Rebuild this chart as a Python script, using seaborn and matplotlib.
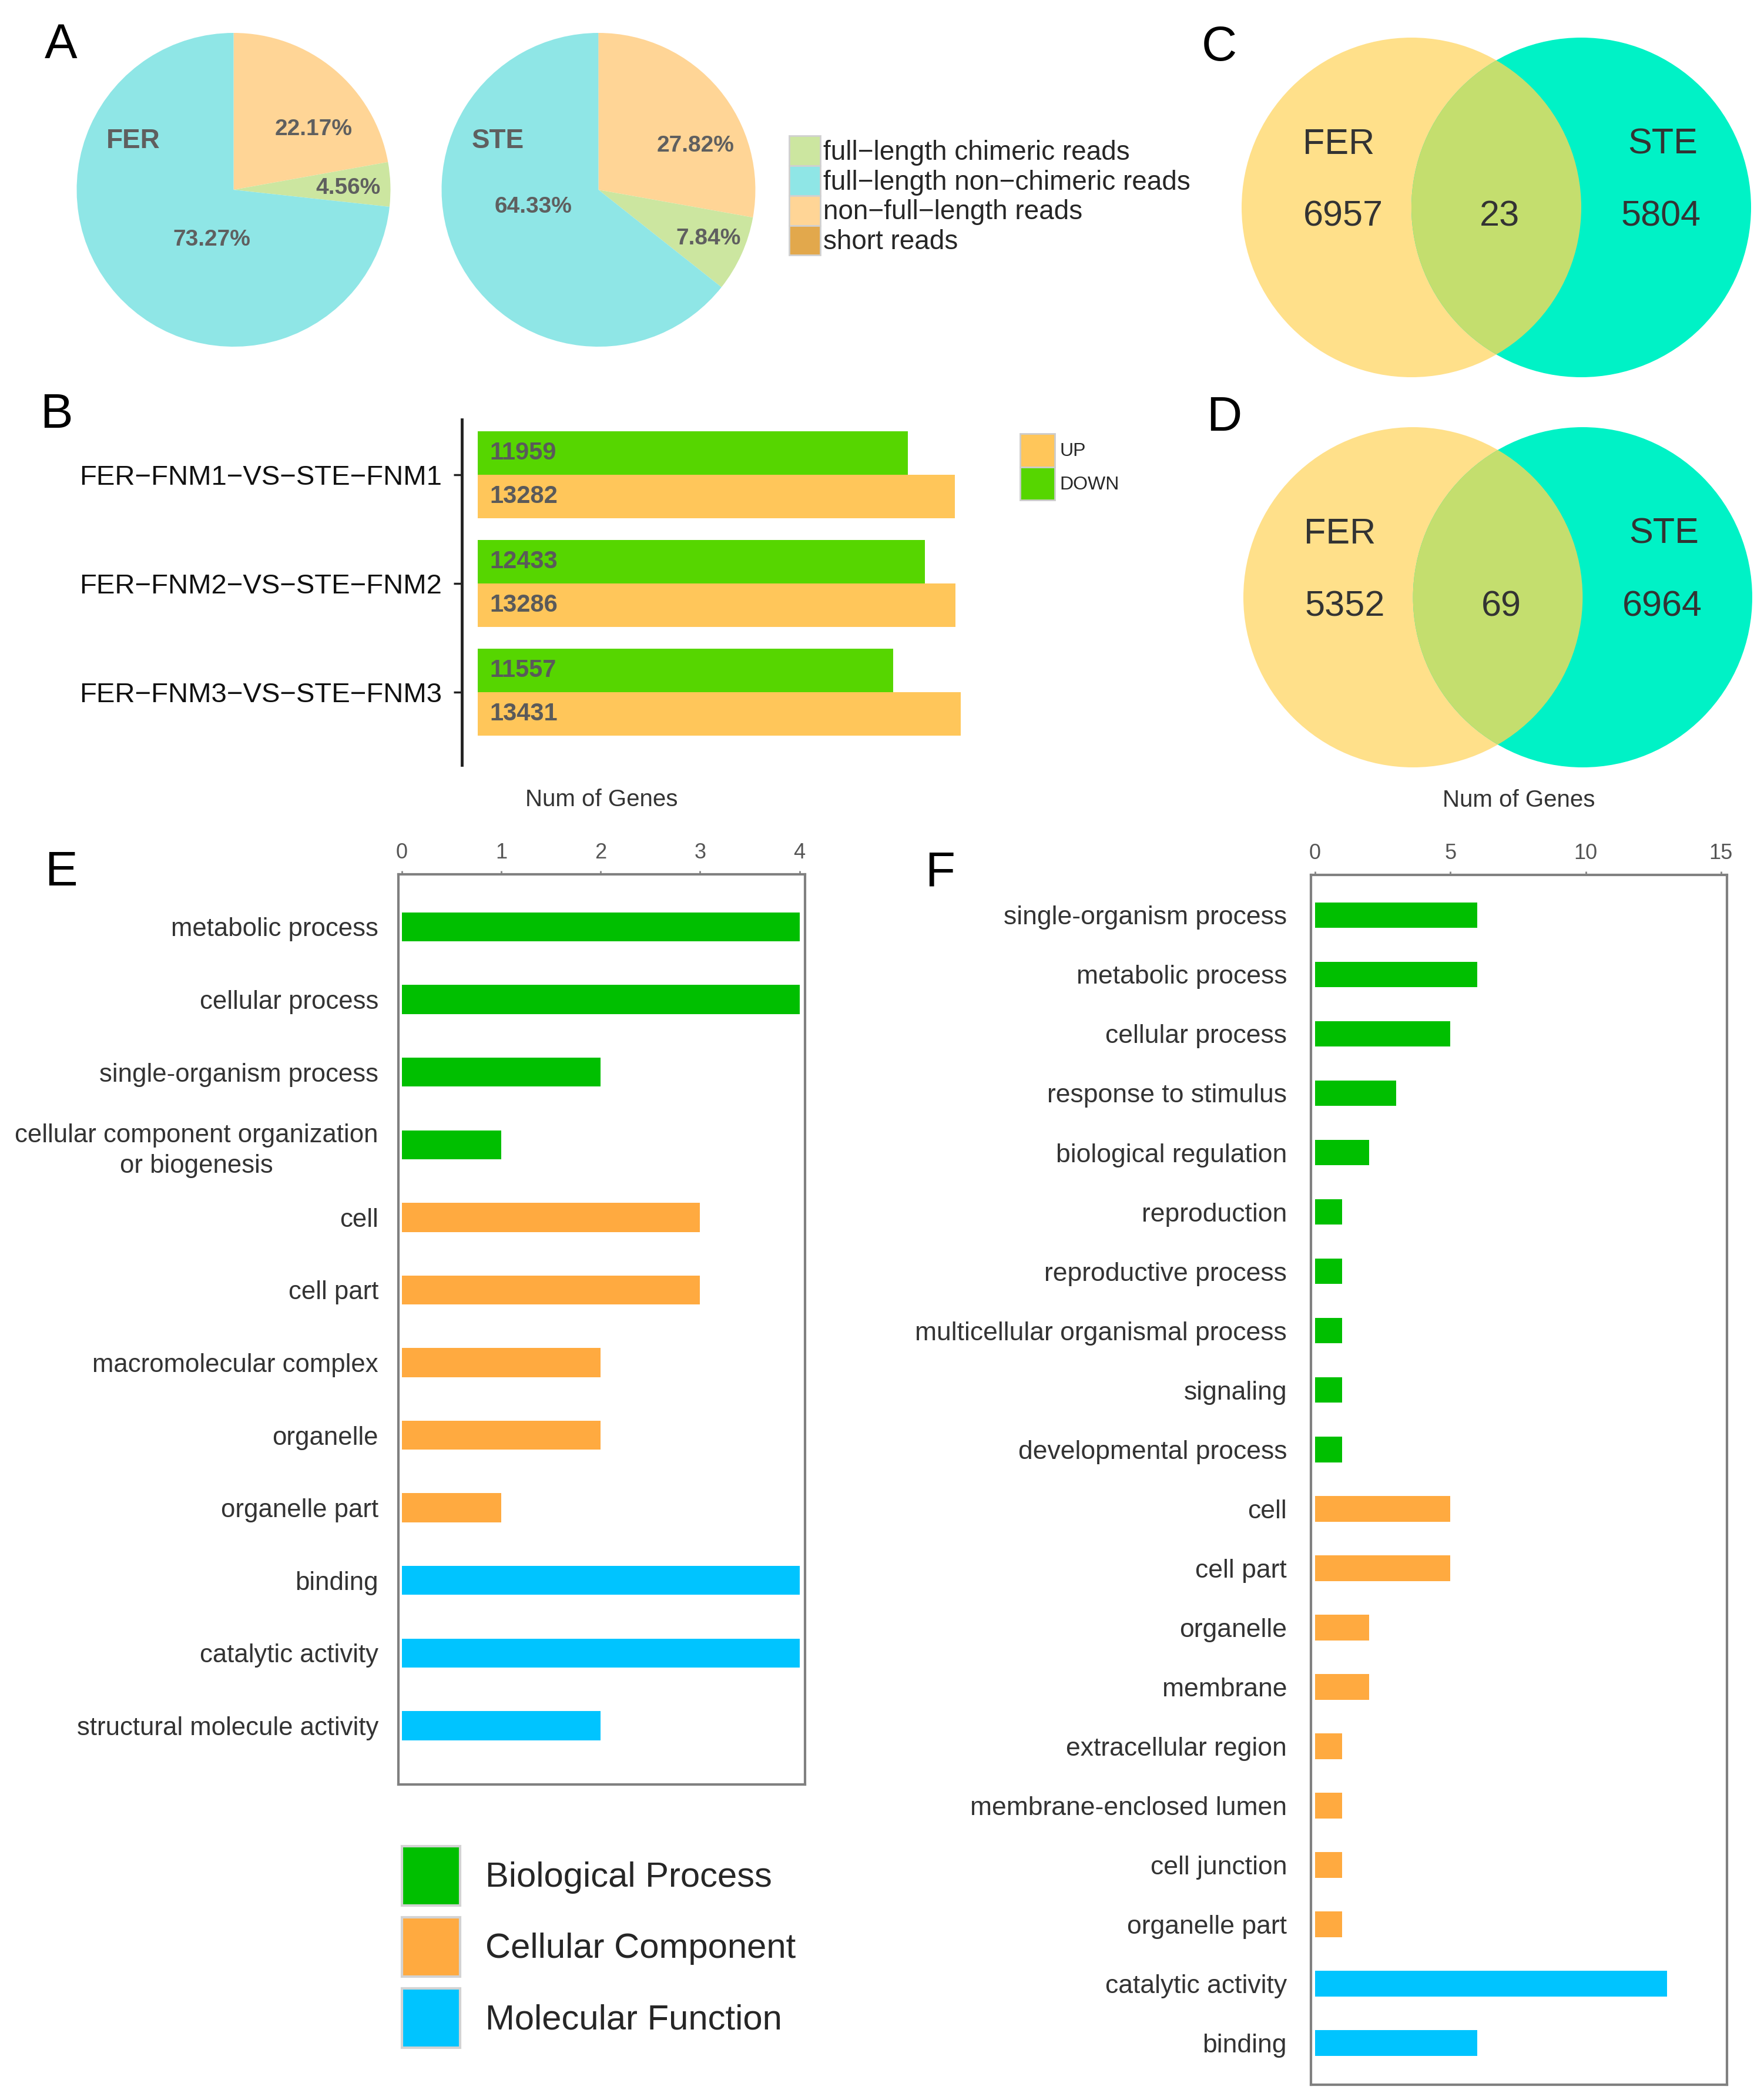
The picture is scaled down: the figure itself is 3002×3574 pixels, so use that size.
import matplotlib
matplotlib.use("Agg")
import matplotlib.pyplot as plt
from matplotlib.patches import Circle, Patch
import pandas as pd
import seaborn as sns

MINUS = "\u2212"

# panel A: read classes, percent of reads
read_classes = [
    f"full{MINUS}length chimeric reads",
    f"full{MINUS}length non{MINUS}chimeric reads",
    f"non{MINUS}full{MINUS}length reads",
    "short reads",
]
read_colors = ["#CCE6A0", "#8FE6E6", "#FFD596", "#E2A84C"]
fer_reads = [4.56, 73.27, 22.17, 0.0]
ste_reads = [7.84, 64.33, 27.82, 0.01]

# panel B: DEG counts per comparison
comparisons = [
    f"FER{MINUS}FNM1{MINUS}VS{MINUS}STE{MINUS}FNM1",
    f"FER{MINUS}FNM2{MINUS}VS{MINUS}STE{MINUS}FNM2",
    f"FER{MINUS}FNM3{MINUS}VS{MINUS}STE{MINUS}FNM3",
]
down_genes = [11959, 12433, 11557]
up_genes = [13282, 13286, 13431]

# panels C, D: FER only, shared, STE only
venn_c = [6957, 23, 5804]
venn_d = [5352, 69, 6964]

# panel E: GO terms
e_terms = [
    "metabolic process", "cellular process", "single-organism process",
    "cellular component organization\nor biogenesis", "cell", "cell part",
    "macromolecular complex", "organelle", "organelle part", "binding",
    "catalytic activity", "structural molecule activity",
]
e_counts = [4, 4, 2, 1, 3, 3, 2, 2, 1, 4, 4, 2]
e_groups = ["Biological Process"] * 4 + ["Cellular Component"] * 5 + ["Molecular Function"] * 3

# panel F: GO terms
f_terms = [
    "single-organism process", "metabolic process", "cellular process",
    "response to stimulus", "biological regulation", "reproduction",
    "reproductive process", "multicellular organismal process", "signaling",
    "developmental process", "cell", "cell part", "organelle", "membrane",
    "extracellular region", "membrane-enclosed lumen", "cell junction",
    "organelle part", "catalytic activity", "binding",
]
f_counts = [6, 6, 5, 3, 2, 1, 1, 1, 1, 1, 5, 5, 2, 2, 1, 1, 1, 1, 13, 6]
f_groups = ["Biological Process"] * 10 + ["Cellular Component"] * 8 + ["Molecular Function"] * 2

GO_COLORS = {
    "Biological Process": "#00BF00",
    "Cellular Component": "#FFAA40",
    "Molecular Function": "#00C4FF",
}
B_COLORS = {"DOWN": "#56D600", "UP": "#FFC65A"}
VENN_FER, VENN_STE, VENN_BOTH = "#FFE08A", "#00F2C6", "#C4DE6E"

W, H = 3002, 3574


def px_box(x0, y0, x1, y1):
    # pixel box (top-left origin) -> figure fraction rect
    return [x0 / W, 1 - y1 / H, (x1 - x0) / W, (y1 - y0) / H]


def px_pt(x, y):
    return (x / W, 1 - y / H)


sns.set_style("white")
plt.rcParams["font.family"] = ["Liberation Sans", "DejaVu Sans"]

fig = plt.figure(figsize=(W / 100, H / 100), dpi=100)

# ---- A: pies ----
PIE_ORDER = [2, 0, 1, 3]  # clockwise from 12 o'clock


def draw_pie(rect, values, name, pct_pos):
    ax = fig.add_axes(px_box(*rect))
    vals = [values[i] for i in PIE_ORDER]
    ax.pie(vals, colors=[read_colors[i] for i in PIE_ORDER], startangle=90,
           counterclock=False, wedgeprops={"linewidth": 0})
    ax.set_xlim(-1, 1)
    ax.set_ylim(-1, 1)
    ax.set_aspect("equal")
    ax.text(-0.64, 0.31, name, fontsize=33, fontweight="bold", color="#5F5F5F",
            ha="center", va="center")
    for v, (x, y) in zip(vals[:3], pct_pos):
        ax.text(x, y, f"{v:.2f}%", fontsize=28, fontweight="bold", color="#5F5F5F",
                ha="center", va="center")


draw_pie((130, 56, 665, 590), fer_reads, "FER", [(0.51, 0.385), (0.73, 0.01), (-0.14, -0.32)])
draw_pie((751, 56, 1286, 590), ste_reads, "STE", [(0.62, 0.28), (0.70, -0.31), (-0.415, -0.11)])

read_handles = [Patch(facecolor=c, edgecolor="#D0D0D0", linewidth=2, label=l)
                for c, l in zip(read_colors, read_classes)]
fig.legend(handles=read_handles, loc="upper left", bbox_to_anchor=px_pt(1343, 231),
           frameon=False, fontsize=33, handlelength=1.15, handleheight=1.33,
           labelspacing=0, handletextpad=0.12, borderpad=0, borderaxespad=0)

# ---- B: DEG bars ----
b_df = pd.DataFrame({
    "comparison": comparisons * 2,
    "direction": ["DOWN"] * 3 + ["UP"] * 3,
    "genes": down_genes + up_genes,
})
ax_b = fig.add_axes(px_box(785.5, 714, 1700, 1302))
sns.barplot(data=b_df, x="genes", y="comparison", hue="direction", hue_order=["DOWN", "UP"],
            palette=B_COLORS, orient="h", width=0.8, saturation=1, errorbar=None,
            legend=False, linewidth=0, ax=ax_b)
ax_b.set_xlim(-450, 14500)
ax_b.set_ylim(2.668, -0.51)
for container in ax_b.containers:
    for bar in container:
        ax_b.text(bar.get_x() + 330, bar.get_y() + bar.get_height() / 2, f"{int(bar.get_width())}",
                  fontsize=30, fontweight="bold", color="#5A5A5A", ha="left", va="center")
sns.despine(ax=ax_b, top=True, right=True, bottom=True)
ax_b.spines["left"].set_linewidth(3.5)
ax_b.spines["left"].set_color("#222222")
ax_b.set_xticks([])
ax_b.set_xlabel("")
ax_b.set_ylabel("")
ax_b.tick_params(axis="y", left=True, length=10, width=2.5, pad=14, labelsize=34,
                 color="#222222", labelcolor="#111111")

b_handles = [Patch(facecolor=B_COLORS["UP"], edgecolor="#CCCCCC", linewidth=2, label="UP"),
             Patch(facecolor=B_COLORS["DOWN"], edgecolor="#CCCCCC", linewidth=2, label="DOWN")]
fig.legend(handles=b_handles, loc="upper left", bbox_to_anchor=px_pt(1736, 738),
           frameon=False, fontsize=23, handlelength=1.85, handleheight=2.35,
           labelspacing=0, handletextpad=0.25, borderpad=0, borderaxespad=0)


# ---- C, D: venns ----
def draw_venn(rect, counts):
    ax = fig.add_axes(px_box(*rect))
    ax.set_xlim(-1.5, 1.5)
    ax.set_ylim(-1, 1)
    ax.axis("off")
    left = Circle((-0.5, 0), 1, facecolor=VENN_FER, edgecolor="none")
    right = Circle((0.5, 0), 1, facecolor=VENN_STE, edgecolor="none")
    ax.add_patch(left)
    ax.add_patch(right)
    lens = Circle((-0.5, 0), 1, facecolor=VENN_BOTH, edgecolor="none")
    ax.add_patch(lens)
    lens.set_clip_path(right)
    kw = dict(fontsize=44, color="#333333", ha="center", va="center")
    ax.text(-0.93, 0.37, "FER", **kw)
    ax.text(0.98, 0.37, "STE", **kw)
    for x, n in zip([-0.90, 0.02, 0.97], counts):
        ax.text(x, -0.056, str(n), **kw)


draw_venn((2113, 64, 2980, 642), venn_c)
draw_venn((2116, 727, 2982, 1306), venn_d)


# ---- E, F: GO bars ----
def draw_go(rect, terms, counts, groups, xlim, ylim, xticks, width, fs, pad):
    df = pd.DataFrame({"term": terms, "count": counts, "group": groups})
    ax = fig.add_axes(px_box(*rect))
    sns.barplot(data=df, x="count", y="term", hue="group", palette=GO_COLORS, dodge=False,
                width=width, orient="h", saturation=1, errorbar=None, legend=False,
                linewidth=0, ax=ax)
    ax.set_xlim(*xlim)
    ax.set_ylim(*ylim)
    ax.xaxis.tick_top()
    ax.xaxis.set_label_position("top")
    ax.set_xticks(xticks)
    ax.set_xlabel("Num of Genes", fontsize=29, color="#333333", labelpad=44)
    ax.set_ylabel("")
    ax.tick_params(axis="x", top=True, bottom=False, direction="out", length=4, width=2,
                   color="#888888", labelsize=26, labelcolor="#555555", pad=10)
    ax.tick_params(axis="y", left=False, labelsize=fs, labelcolor="#333333", pad=pad)
    for lbl in ax.get_yticklabels():
        if "\n" in lbl.get_text():
            lbl.set_multialignment("center")
            lbl.set_linespacing(1.35)
    for s in ax.spines.values():
        s.set_visible(True)
        s.set_color("#808080")
        s.set_linewidth(3)
    return ax


draw_go((678, 1488, 1370, 3037), e_terms, e_counts, e_groups, (-0.033, 4.056),
        (11.81, -0.724), [0, 1, 2, 3, 4], 0.4, 31.5, 21)
draw_go((2231, 1489, 2939, 3548), f_terms, f_counts, f_groups, (-0.15, 15.22),
        (19.707, -0.678), [0, 5, 10, 15], 0.435, 32, 26)

go_handles = [Patch(facecolor=c, edgecolor="#D3D3D3", linewidth=3, label=g)
              for g, c in GO_COLORS.items()]
fig.legend(handles=go_handles, loc="upper left", bbox_to_anchor=px_pt(684, 3142),
           frameon=False, fontsize=43, handlelength=1.66, handleheight=2.22,
           labelspacing=0.34, handletextpad=0.72, borderpad=0, borderaxespad=0)

# panel letters
for letter, (x, y) in zip("ABCDEF", [(104, 77), (96, 706), (2075, 81), (2083, 711),
                                      (104, 1485), (1600, 1485)]):
    fig.text(*px_pt(x, y), letter, fontsize=60, ha="center", va="center", color="black")

fig.savefig("out.png", dpi=100)
plt.close(fig)
